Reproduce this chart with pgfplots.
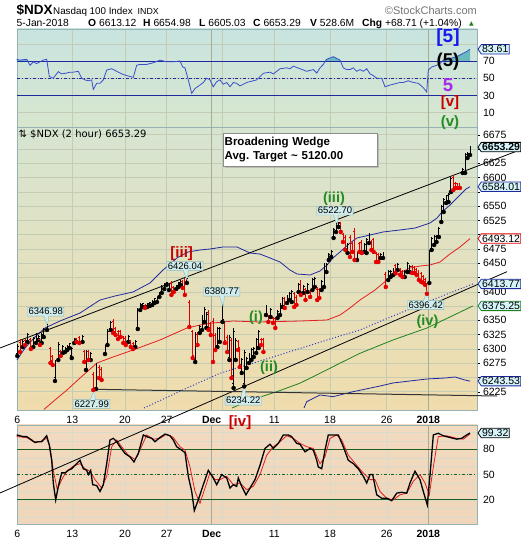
\documentclass[border=0pt]{standalone}
\usepackage{fontspec}
\setmainfont{Liberation Sans}
\newfontfamily\dejavu{DejaVu Sans}
\usepackage{pgfplots}
\usepackage{pgfplotstable}
\pgfplotsset{compat=1.18}
\usetikzlibrary{shapes.symbols,shapes.callouts,shadows}

\definecolor{bordercol}{RGB}{150,178,178}
\definecolor{gridcol}{RGB}{196,204,180}
\definecolor{monthgrid}{RGB}{165,172,150}
\definecolor{topA}{RGB}{200,228,224}
\definecolor{topB}{RGB}{216,230,206}
\definecolor{mainA}{RGB}{214,229,210}
\definecolor{mainM}{RGB}{236,229,176}
\definecolor{mainB}{RGB}{240,220,172}
\definecolor{botA}{RGB}{242,218,192}
\definecolor{botB}{RGB}{240,214,186}
\definecolor{barred}{RGB}{228,0,0}
\definecolor{bandblue}{RGB}{32,40,160}
\definecolor{dotblue}{RGB}{50,60,200}
\definecolor{mared}{RGB}{228,30,30}
\definecolor{magreen}{RGB}{30,130,30}
\definecolor{rsiblue}{RGB}{58,78,205}
\definecolor{rsifill}{RGB}{105,185,190}
\definecolor{stgreen}{RGB}{30,95,30}
\definecolor{wgreen}{RGB}{34,140,34}
\definecolor{wred}{RGB}{200,0,0}
\definecolor{wblue}{RGB}{25,25,235}
\definecolor{wmag}{RGB}{165,40,235}
\definecolor{tagfill}{RGB}{212,244,250}
\definecolor{lblfill}{RGB}{208,236,236}
\definecolor{lblborder}{RGB}{140,185,185}

\pgfdeclareplotmark{otick}{\pgfpathmoveto{\pgfpoint{-1.4pt}{0pt}}\pgfpathlineto{\pgfpoint{0pt}{0pt}}\pgfusepathqstroke}
\pgfdeclareplotmark{ctick}{\pgfpathmoveto{\pgfpoint{0pt}{0pt}}\pgfpathlineto{\pgfpoint{1.4pt}{0pt}}\pgfusepathqstroke}

\pgfplotstableread{
x h l o c
17.3 6308.6 6287.5 6292 6305
22.7 6315.6 6303.3 6305 6313
27.5 6327.8 6312.1 6314 6325
33.3 6320.8 6303.3 6305 6318
36.0 6327.8 6310.3 6313 6325
38.3 6324.3 6315.6 6317 6322
41.7 6327.8 6310.3 6312 6325
43.8 6336.6 6320.8 6323 6334
47.0 6347.0 6333.1 6335 6343
55.0 6280.5 6243.8 6250 6276
58.3 6312.1 6280.5 6283 6308
62.9 6306.8 6292.8 6294 6304
65.0 6303.3 6294.5 6296 6302
67.2 6306.8 6298.0 6300 6305
69.5 6310.3 6301.5 6303 6309
71.8 6303.3 6284.0 6288 6301
74.2 6319.1 6310.3 6312 6317
82.5 6324.3 6312.1 6313 6322
86.0 6298.0 6263.0 6266 6294
90.7 6294.5 6280.5 6283 6292
96.0 6275.3 6229.8 6233 6272
105.0 6306.8 6291.0 6293 6304
107.5 6334.8 6306.8 6309 6331
110.8 6348.8 6333.1 6335 6346
128.3 6324.3 6312.1 6313 6321
135.3 6315.6 6303.3 6304 6313
137.8 6371.6 6334.8 6338 6368
140.2 6380.4 6368.1 6370 6378
142.6 6380.4 6373.4 6374 6379
147.4 6380.4 6373.4 6374 6379
149.8 6382.1 6375.1 6376 6381
152.2 6385.6 6376.9 6378 6384
154.6 6389.1 6380.4 6382 6388
157.0 6390.9 6382.1 6384 6389
159.4 6399.6 6390.9 6391 6398
161.8 6411.9 6397.9 6399 6410
164.2 6415.4 6404.9 6406 6413
166.6 6417.1 6411.9 6412 6416
169.0 6415.4 6403.1 6405 6414
176.2 6411.9 6404.9 6405 6411
178.6 6417.1 6408.4 6410 6416
180.6 6420.6 6411.9 6413 6419
186.9 6426.0 6415.4 6417 6424
195.2 6329.6 6277.0 6282 6326
199.8 6341.8 6327.8 6329 6340
202.0 6359.3 6333.1 6336 6356
204.2 6373.4 6347.1 6350 6370
206.4 6364.6 6336.6 6340 6361
217.4 6338.3 6303.3 6306 6335
219.8 6338.3 6312.1 6315 6336
222.5 6380.8 6347.1 6350 6352
229.4 6324.3 6280.5 6285 6320
233.6 6336.6 6231.5 6240 6330
235.8 6319.1 6280.5 6284 6315
241.8 6284.0 6257.8 6261 6281
244.2 6298.0 6234.2 6240 6293
246.6 6285.8 6266.5 6269 6283
249.0 6292.8 6275.3 6278 6290
251.4 6301.5 6280.5 6283 6299
253.8 6303.3 6285.8 6288 6301
256.2 6319.1 6292.8 6296 6316
258.6 6333.1 6301.5 6305 6330
266.0 6376.9 6359.3 6361 6374
270.6 6371.6 6355.8 6357 6369
277.6 6368.1 6354.1 6356 6366
280.0 6380.4 6359.3 6361 6378
282.4 6390.9 6373.4 6375 6389
287.0 6394.4 6380.4 6382 6392
289.4 6399.6 6385.6 6387 6397
291.8 6403.1 6382.1 6385 6401
298.6 6415.4 6399.6 6401 6413
303.2 6411.9 6397.9 6399 6410
307.8 6415.4 6399.6 6401 6413
312.4 6424.1 6403.1 6405 6422
314.8 6425.9 6408.4 6410 6424
321.6 6420.6 6403.1 6405 6418
324.0 6450.4 6408.4 6412 6447
326.4 6450.4 6434.6 6437 6448
328.8 6467.9 6455.6 6457 6466
331.2 6473.2 6460.9 6463 6471
333.6 6511.6 6494.2 6496 6509
336.0 6522.2 6504.7 6507 6520
338.4 6522.7 6513.4 6514 6521
347.6 6485.4 6467.9 6470 6483
357.0 6469.7 6455.6 6457 6467
364.2 6485.4 6469.7 6472 6483
366.6 6494.2 6467.9 6471 6491
369.0 6502.9 6485.4 6488 6500
380.6 6467.9 6459.2 6460 6466
383.0 6469.7 6459.2 6461 6468
388.2 6438.1 6420.6 6423 6436
390.6 6438.1 6425.9 6428 6436
393.0 6441.6 6429.4 6431 6440
397.8 6450.4 6438.1 6440 6448
404.8 6438.1 6425.9 6428 6436
407.2 6452.1 6434.6 6437 6450
409.6 6446.9 6434.6 6437 6445
429.3 6473.2 6415.4 6418 6470
431.7 6495.9 6473.2 6476 6493
434.1 6499.4 6481.9 6484 6497
436.5 6499.4 6487.2 6489 6498
438.9 6513.4 6495.9 6498 6511
441.3 6551.9 6522.2 6525 6549
443.7 6564.2 6539.7 6542 6562
446.1 6569.5 6555.4 6557 6568
448.5 6573.0 6557.2 6560 6571
450.9 6601.0 6574.7 6577 6598
462.7 6616.7 6608.0 6609 6615
465.1 6643.0 6608.0 6611 6640
467.5 6644.8 6634.2 6636 6643
470.0 6655.0 6639.5 6641 6653.3
}\blackbars

\pgfplotstableread{
x h l o c
20.0 6317.3 6294.5 6312 6298
25.0 6317.3 6306.8 6315 6308
30.9 6319.1 6299.8 6316 6302
39.9 6319.1 6306.8 6317 6309
50.5 6303.3 6275.3 6300 6280
52.8 6289.3 6271.8 6286 6275
60.6 6298.0 6287.5 6296 6289
76.6 6319.1 6312.1 6318 6313
79.3 6322.6 6310.3 6320 6312
84.2 6298.0 6277.0 6295 6280
88.4 6298.0 6280.5 6295 6283
93.3 6259.5 6228.0 6256 6232
99.0 6271.8 6249.0 6268 6252
101.6 6268.3 6245.5 6264 6249
113.2 6352.3 6327.8 6348 6331
115.6 6338.3 6324.3 6335 6327
118.0 6333.1 6317.3 6330 6320
120.6 6333.1 6320.8 6330 6323
123.2 6322.6 6310.3 6320 6312
125.8 6322.6 6306.8 6319 6309
130.8 6315.6 6303.3 6313 6306
133.0 6312.1 6299.8 6309 6302
145.0 6378.6 6371.6 6377 6373
171.4 6418.9 6394.4 6415 6398
173.8 6410.1 6399.6 6408 6401
182.8 6420.6 6406.6 6419 6409
184.9 6424.1 6394.4 6420 6398
189.3 6385.6 6338.3 6382 6342
192.7 6333.1 6284.0 6330 6288
197.5 6329.6 6306.8 6326 6310
208.6 6368.1 6333.1 6364 6337
210.8 6347.1 6324.3 6344 6327
213.0 6354.1 6277.0 6349 6282
215.2 6327.8 6298.0 6324 6301
224.9 6347.1 6310.3 6344 6314
227.2 6324.3 6294.5 6320 6298
231.5 6319.1 6249.0 6315 6253
238.0 6315.6 6298.0 6313 6300
239.8 6303.3 6268.3 6300 6272
261.0 6319.1 6306.8 6317 6309
263.4 6319.1 6294.5 6316 6297
268.3 6359.3 6347.1 6357 6349
273.0 6355.8 6345.3 6354 6347
275.3 6355.8 6336.6 6353 6339
284.8 6390.9 6371.6 6388 6374
294.2 6399.6 6373.4 6397 6376
296.4 6394.4 6376.9 6391 6379
300.9 6420.6 6394.4 6416 6397
305.5 6406.6 6385.6 6404 6388
310.1 6403.1 6390.9 6401 6393
317.2 6408.4 6385.6 6405 6388
319.3 6406.6 6389.1 6404 6391
340.8 6522.2 6504.7 6520 6507
343.0 6502.9 6487.2 6500 6490
345.3 6499.4 6473.2 6496 6476
350.0 6499.4 6460.9 6495 6464
352.3 6487.2 6469.7 6485 6472
354.6 6511.6 6455.6 6505 6459
359.4 6487.2 6469.7 6484 6472
361.8 6490.7 6467.9 6487 6470
371.4 6490.7 6473.2 6488 6476
373.7 6494.2 6469.7 6491 6472
376.0 6469.7 6452.1 6467 6455
378.3 6467.9 6452.1 6465 6455
385.8 6434.6 6408.4 6431 6411
395.4 6448.6 6432.9 6446 6435
400.2 6441.6 6429.4 6439 6432
402.5 6438.1 6425.9 6436 6428
412.0 6446.9 6432.9 6444 6435
414.3 6445.1 6432.9 6443 6435
416.6 6441.6 6429.4 6439 6431
418.9 6438.1 6420.6 6436 6423
421.2 6434.6 6417.1 6432 6419
423.5 6429.4 6415.4 6427 6417
425.1 6424.1 6411.9 6422 6414
426.9 6415.4 6396.4 6413 6399
453.3 6604.5 6578.2 6600 6582
455.5 6592.2 6581.7 6590 6584
457.7 6590.5 6581.7 6589 6583
459.9 6590.5 6581.7 6588 6583
}\redbars

\pgfplotstableread{
x v
17 6280.5
25 6301.5
35 6320.8
45 6336.6
60 6348.8
80 6362.8
100 6385.6
115 6392.6
133 6399.6
150 6415.4
163 6438.1
177 6459.2
188 6469.7
200 6473.2
210 6474.9
223 6478.4
237 6478.4
250 6467.9
260 6466.0
270 6459.2
280 6452.1
290 6438.1
297 6431.1
310 6429.4
320 6436.4
327 6446.9
333 6459.2
340 6469.7
350 6485.4
357 6494.2
370 6499.4
383 6504.7
400 6508.2
415 6511.6
430 6520.4
437 6529.2
442 6539.7
450 6551.9
460 6569.5
466 6580.0
470 6584.0
}\upband

\pgfplotstableread{
x v
304 6196.5
306.7 6207.5
320 6219.3
333 6216.3
353 6225.0
380 6235.0
393 6240.3
427 6247.3
445 6249.0
455 6250.8
465 6245.5
470 6243.5
}\lowband

\pgfplotstableread{
x v
44 6194
55 6210.5
67 6228.0
80 6249.0
97 6275.3
113 6285.8
133 6298.0
160 6315.6
187 6336.6
200 6341.8
213 6345.3
233 6348.8
260 6347.1
300 6348.8
327 6350.6
340 6359.3
350 6371.6
360 6385.6
375 6403.1
387 6420.6
400 6432.9
410 6441.6
420 6445.1
430 6446.9
440 6452.1
450 6466.2
460 6478.4
470 6493.1
}\redma

\pgfplotstableread{
x v
144 6196.5
187 6231.5
220 6257.3
260 6278.8
300 6300.7
330 6317.3
360 6333.1
393 6357.6
427 6382.1
473 6413.8
}\dotma

\pgfplotstableread{
x v
232 6196.5
250 6210.0
276.7 6225.0
300 6240.0
320 6257.3
340 6275.0
360 6292.3
393 6315.6
427 6336.6
473 6375.3
}\greenma

\pgfplotstableread{
x v
16.7 72
20 71
26.7 72
30 65
33.3 69
36.7 67
40 69
43.3 71
46.7 72
49.3 52
53.3 50
58.3 57.6
61.7 55
66.7 56
70 57
73.3 57
78.3 58
81.7 50
85 48
88.3 47
91.7 48
93.3 37
96.7 44
100 44
103.3 48
106.7 59.5
111.7 61
116.7 58
121.7 55
126.7 53
133.3 51
136.7 65
140 66
146.7 66
153.3 68
160 71
166.7 69
173.3 69
180 70
182.7 63
185 62
188.3 48
191.7 32.4
195 38
200 42
203.3 45
206.7 50
210 48
213.3 40
216.7 46
220 48
223.3 43
226.7 45
230 40
233.3 45
236.7 44
240 41
246.7 45
253.3 47
256.7 48
263.3 55.7
270 57
273.3 55
276.7 58
280 61
286.7 62
290 61
293.3 64
300 61
306.7 58
313.3 60
316.7 56
320 62
323.3 66
326.7 72
333.3 75
340 71
343.3 62
346.7 60
350 60
353.3 62
356.7 58
360 60
363.3 58
366.7 61
370 55
373.3 53
376.7 50
381.7 50
385 40
390 42
393.3 43
400 45
403.3 45
408.3 47
413.3 45
418.3 44
423.3 39
426.7 34
428.3 59.5
431.7 63
436.7 65
440 67
443.3 71
446.7 72
453.3 74
458.3 76
463.3 79
466.7 81
470 83.6
}\rsi

\pgfplotstableread{
x v
16.7 97
20 96
23.3 95
26.7 95
31.7 91
35 88
38.3 89
41.7 89
46.7 96
49.3 85
51.7 67
53.3 40
55.7 20
58.3 36
61.7 52
65 52
68.3 55
71.7 57
75 61
80 67
83.3 57
86.7 55
88.3 50
90.7 55
92.7 38
96.7 37
100 30
103.3 38
106.7 63
110 91
113.3 93
116.7 89
120 83
125 75
130 71
134 65
138.3 75
143.3 97
146.7 95
151.7 93
155 89
160 94
165 98
170 96
173.3 91
176.7 83
181.7 79
185 76
188.3 48
191.7 30
194.3 7.3
198.3 20
203.3 38
208.3 55
213.3 46
216.7 38
221.7 50
226.7 46
230 34
233.3 38
236.7 36
238.3 46
241.7 36
246 26
250 34
255 44
260 61
265 81
270 86
273.3 81
278.3 87
283.3 97
288.3 97
291.7 95
296.7 87
300 86
305 77
310 81
313.3 79
316.7 67
318.3 59
321.7 57
325 79
328.3 97
333.3 97
338.3 97
343.3 83
348.3 67
353.3 63
358.3 57
363.3 48
366.7 40
370 50
372.7 50
376.7 26
381.7 22
386.7 22
391.7 19
396.7 28
401.7 29
406.7 28
410 40
415 54
420 44
423.3 30
427.3 14
430.7 59
433.3 97
438.3 99
443.3 96
450 94
456.7 92
461.7 93
466.7 97
470 99.3
}\stk

\pgfplotstableread{
x v
16.7 95
26.7 94
33.3 89
40 89
46.7 93
50 83
53.3 55
57.3 32
61.7 44
66.7 54
73.3 60
80 63
85 57
90 54
95 44
101.7 34
106.7 48
111.7 83
116.7 91
121.7 83
128.3 73
135 68
140 79
146.7 97
153.3 92
160 93
166.7 98
173.3 94
180 83
185 79
190 59
195 30
200 16
205 34
210 52
215 44
220 44
226.7 48
233.3 38
240 40
246.7 32
253.3 36
260 50
266.7 73
273.3 83
280 89
286.7 96
293.3 93
300 87
306.7 83
313.3 81
320 63
325 71
330 93
336.7 97
341.7 91
348.3 73
356.7 61
363.3 52
370 44
375 44
380 30
386.7 22
393.3 20
400 26
406.7 28
413.3 42
420 50
425 40
429.3 26
433.3 59
438.3 95
446.7 96
456.7 93
463.3 92
470 98
}\std

\pgfplotsset{
  panel/.style={scale only axis, width=460pt, xmin=17, xmax=477, clip=false,
    axis line style={draw=bordercol, line width=0.8pt},
    xtick={17.3,72.3,125,166.7,222.3,274.3,330,386.7},
    extra x ticks={211.7,428.3},
    extra x tick style={grid style={draw=monthgrid, line width=0.6pt}},
    xmajorgrids, ymajorgrids,
    grid style={draw=gridcol, line width=0.5pt},
    xtick style={draw=none},
    ytick pos=right, yticklabel pos=right,
    tick align=outside,
    major tick length=2.5pt,
    tick label style={font=\fontsize{10.5}{12}\selectfont},
    /pgf/number format/1000 sep={},
    /pgf/number format/assume math mode=true,
  },
}
\tikzset{
  tag/.style={shape=signal, signal to=west, signal pointer angle=110, anchor=west,
    fill=tagfill, line width=0.8pt, inner xsep=0.8pt, inner ysep=1pt,
    font=\fontsize{10.5}{11}\selectfont},
  lbl/.style={rectangle callout, draw=lblborder, fill=lblfill, inner xsep=1pt, inner ysep=1pt,
    callout pointer width=5pt, font=\fontsize{9.5}{10}\selectfont},
}

\begin{document}
\begin{tikzpicture}
\useasboundingbox (0,0) rectangle (520pt,540pt);

% ---------- bottom panel (stochastics) ----------
\begin{axis}[panel, at={(17pt,16pt)}, anchor=south west, height=99pt,
  ymin=-8.6, ymax=108.8,
  axis background/.style={top color=botA, bottom color=botB},
  xticklabels={6,13,20,27,,11,18,26},
  extra x tick labels={\textbf{Dec},\textbf{2018}},
  ytick={0,10,...,100}, yticklabels={,,20,,,50,,,80,,},
  ytick style={draw=none},
  grid style={draw=gridcol!70, line width=0.4pt},
]
\addplot[stgreen, line width=0.8pt] coordinates {(17,80) (477,80)};
\addplot[stgreen, line width=0.8pt] coordinates {(17,20) (477,20)};
\addplot[stgreen, line width=0.8pt, dash dot] coordinates {(17,50) (477,50)};
\addplot[mared, line width=0.8pt] table[x=x,y=v] {\std};
\addplot[black, line width=1.3pt] table[x=x,y=v] {\stk};
\node[tag, draw=black] at (477.5,99.32) {99.32};
\end{axis}

% ---------- top panel (RSI) ----------
\begin{axis}[panel, at={(17pt,412.7pt)}, anchor=south west, height=98.3pt,
  ymin=-7.1, ymax=107.2,
  axis background/.style={top color=topA, bottom color=topB},
  xticklabels={}, extra x tick labels={},
  ytick={10,30,50,70,90}, yticklabels={10,30,50,70,},
  ytick style={draw=none},
]
\addplot[fill=rsifill, draw=none] coordinates {(324.6,70) (326.7,72) (333.3,75) (340,71) (340.4,70)} -- cycle;
\addplot[fill=rsifill, draw=none] coordinates {(442.8,70) (443.3,71) (446.7,72) (453.3,74) (458.3,76) (463.3,79) (466.7,81) (470,83.6) (470,70)} -- cycle;
\addplot[fill=rsifill, draw=none] coordinates {(16.7,70) (16.7,72) (20,71) (26.7,72) (28.4,70)} -- cycle;
\addplot[bandblue, line width=0.8pt] coordinates {(17,70) (477,70)};
\addplot[bandblue, line width=0.8pt] coordinates {(17,30) (477,30)};
\addplot[bandblue, line width=0.8pt, dash dot] coordinates {(17,50) (477,50)};
\addplot[rsiblue, line width=0.8pt] table[x=x,y=v] {\rsi};
\node[tag, draw=bandblue] at (477.5,83.61) {83.61};
\end{axis}

% ---------- main panel ----------
\begin{axis}[panel, at={(17pt,130pt)}, anchor=south west, height=282.7pt,
  ymin=6193, ymax=6688,
  axis background/.style={top color=mainA, middle color=mainM, bottom color=mainB},
  xticklabels={6,13,20,27,,11,18,26},
  extra x tick labels={\textbf{Dec},\textbf{2018}},
  ytick={6225,6250,...,6675},
  yticklabels={6225,,6275,6300,6325,6350,,6400,,6450,6475,,6525,6550,,6600,6625,,6675},
  ytick style={draw=black, line width=0.4pt},
]
% moving averages and bands
\addplot[bandblue, line width=0.8pt] table[x=x,y=v] {\upband};
\addplot[bandblue, line width=0.8pt] table[x=x,y=v] {\lowband};
\addplot[mared, line width=0.8pt] table[x=x,y=v] {\redma};
\addplot[dotblue, line width=1pt, dotted] table[x=x,y=v] {\dotma};
\addplot[magreen, line width=0.8pt] table[x=x,y=v] {\greenma};
% trend lines
\addplot[black, line width=0.8pt] coordinates {(0,6301.6) (520,6648.4)};
\addplot[black, line width=0.8pt] coordinates {(0,6047.7) (507,6435.2)};
\addplot[black!80, line width=1pt] coordinates {(96,6229.2) (497,6217.5)};
% OHLC bars: high-low ranges
\addplot[black, mark=none, only marks, error bars/.cd, y dir=plus, y explicit,
  error mark=none, error bar style={black, line width=0.9pt}]
  table[x=x, y=l, y error expr=\thisrow{h}-\thisrow{l}] {\blackbars};
\addplot[only marks, mark=otick, mark options={black, line width=0.8pt}] table[x=x,y=o] {\blackbars};
\addplot[only marks, mark=ctick, mark options={black, line width=0.8pt}] table[x=x,y=c] {\blackbars};
\addplot[barred, mark=none, only marks, error bars/.cd, y dir=plus, y explicit,
  error mark=none, error bar style={barred, line width=0.9pt}]
  table[x=x, y=l, y error expr=\thisrow{h}-\thisrow{l}] {\redbars};
\addplot[only marks, mark=otick, mark options={barred, line width=0.8pt}] table[x=x,y=o] {\redbars};
\addplot[only marks, mark=ctick, mark options={barred, line width=0.8pt}] table[x=x,y=c] {\redbars};
% price labels
\node[lbl, callout relative pointer={(1.3pt,-9.3pt)}] at (45.7,6365.1) {6346.98};
\node[lbl, callout relative pointer={(2.3pt,11pt)}] at (91.7,6203.5) {6227.99};
\node[lbl, callout relative pointer={(1.7pt,-10.5pt)}] at (185,6445.1) {6426.04};
\node[lbl, callout relative pointer={(1pt,-10.5pt)}] at (221.7,6400.1) {6380.77};
\node[lbl, callout relative pointer={(0.7pt,12pt)}] at (243.3,6209.3) {6234.22};
\node[lbl, callout relative pointer={(1.7pt,-10.5pt)}] at (335,6542) {6522.70};
\node[lbl, callout relative pointer={(1pt,10.5pt)}] at (425.7,6376.8) {6396.42};
% right tags
\node[tag, draw=black, font=\bfseries\fontsize{10.5}{11}\selectfont] at (477.5,6653.29) {6653.29};
\node[tag, draw=bandblue] at (477.5,6584.01) {6584.01};
\node[tag, draw=barred, fill=white!90!tagfill] at (477.5,6493.12) {6493.12};
\node[tag, draw=bandblue] at (477.5,6413.77) {6413.77};
\node[tag, draw=magreen] at (477.5,6375.25) {6375.25};
\node[tag, draw=bandblue] at (477.5,6243.53) {6243.53};
\end{axis}

\begin{scope}[x=1pt,y=1pt]
% ---------- header ----------
\node[anchor=base west, inner sep=0] at (16.5,525) {\bfseries\fontsize{13.5}{14}\selectfont \$NDX};
\node[anchor=base west, inner sep=0] at (53,525) {\fontsize{9.8}{12}\selectfont Nasdaq 100 Index};
\node[anchor=base west, inner sep=0] at (137.5,525) {\fontsize{8.8}{12}\selectfont INDX};
\node[anchor=base east, inner sep=0, text=black!55] at (477,525) {\fontsize{11}{12}\selectfont \textcopyright StockCharts.com};
\begin{scope}[every node/.style={anchor=base west, inner sep=0, font=\fontsize{10.3}{12}\selectfont}]
\node at (16.5,513) {5-Jan-2018};
\node at (88,513) {\textbf{O} 6613.12};
\node at (143,513) {\textbf{H} 6654.98};
\node at (199,513) {\textbf{L} 6605.03};
\node at (253,513) {\textbf{C} 6653.29};
\node at (310,513) {\textbf{V} 528.6M};
\node at (362,513) {\textbf{Chg} +68.71 (+1.04\%)};
\node[text=magreen] at (469,514) {\dejavu\fontsize{6}{6}\selectfont ▲};
\end{scope}

% ---------- chart annotations ----------
\node[anchor=west, inner sep=0] at (18.5,406) {\dejavu\fontsize{10}{11}\selectfont ⇅ \$NDX (2 hour) 6653.29};
\node[draw=black!45, fill=white, drop shadow={shadow xshift=2pt, shadow yshift=-2pt, fill=black!40},
  text width=150pt, inner xsep=2pt, inner ysep=3pt, align=left, minimum height=33pt,
  font=\bfseries\fontsize{11.5}{14}\selectfont] at (299.7,390) {Broadening Wedge\\Avg.\ Target \textasciitilde{} 5120.00};

\node[text=wblue, font=\bfseries\fontsize{19}{19}\selectfont] at (448,502) {[5]};
\node[text=black, font=\bfseries\fontsize{18.5}{19}\selectfont] at (448,478) {(5)};
\node[text=wmag, font=\bfseries\fontsize{18.5}{19}\selectfont] at (448,455) {5};
\node[text=wred, font=\bfseries\fontsize{15}{16}\selectfont] at (450,437) {[v]};
\node[text=wgreen, font=\bfseries\fontsize{15}{16}\selectfont] at (450,417) {(v)};
\node[text=wred, font=\bfseries\fontsize{15}{16}\selectfont] at (181.7,286.5) {[iii]};
\node[text=wgreen, font=\bfseries\fontsize{14.5}{16}\selectfont] at (334,341.5) {(iii)};
\node[text=wgreen, font=\bfseries\fontsize{14.5}{16}\selectfont] at (256,222.5) {(i)};
\node[text=wgreen, font=\bfseries\fontsize{14.5}{16}\selectfont] at (269,172.5) {(ii)};
\node[text=wgreen, font=\bfseries\fontsize{14.5}{16}\selectfont] at (427.5,218.3) {(iv)};
\node[text=wred, font=\bfseries\fontsize{15}{16}\selectfont] at (240,117.5) {[iv]};
\end{scope}
\end{tikzpicture}
\end{document}
